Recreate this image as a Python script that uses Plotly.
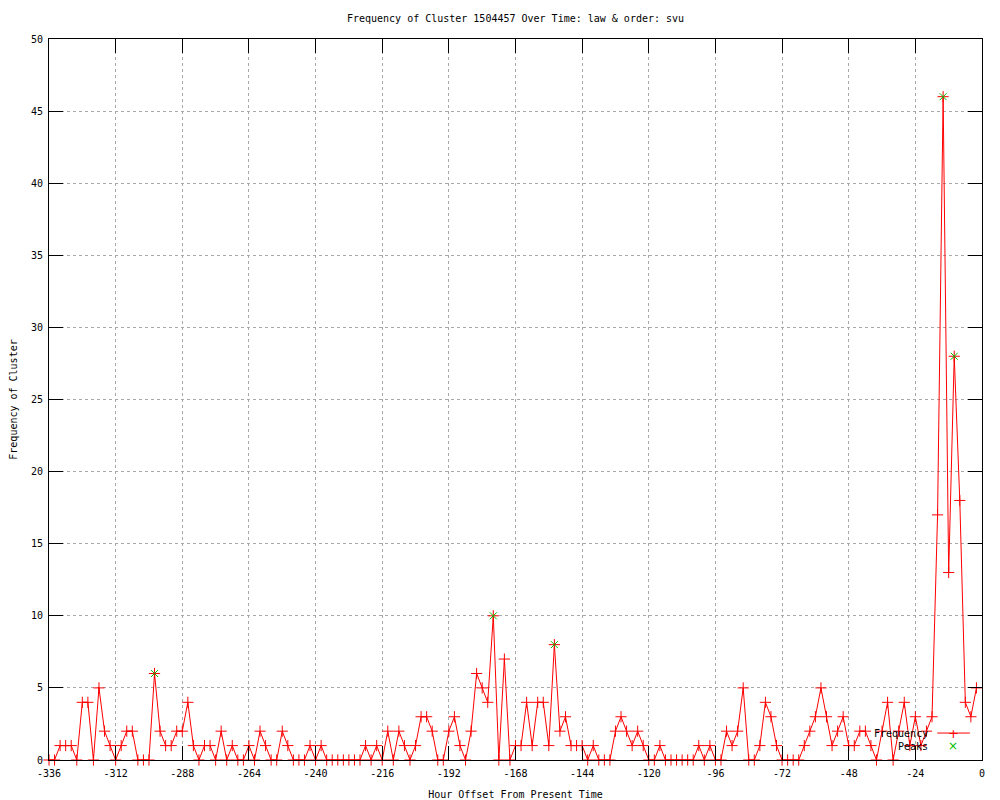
import plotly.graph_objects as go

# ---- data ----
hours = list(range(-336, 0, 2))
frequency = [
    0, 0, 1, 1, 1, 0, 4, 4, 0, 5,      # -336 .. -318
    2, 1, 0, 1, 2, 2, 0, 0, 0, 6,      # -316 .. -298
    2, 1, 1, 2, 2, 4, 1, 0, 1, 1,      # -296 .. -278
    0, 2, 0, 1, 0, 0, 1, 0, 2, 1,      # -276 .. -258
    0, 0, 2, 1, 0, 0, 0, 1, 0, 1,      # -256 .. -238
    0, 0, 0, 0, 0, 0, 0, 1, 0, 1,      # -236 .. -218
    0, 2, 0, 2, 1, 0, 1, 3, 3, 2,      # -216 .. -198
    0, 0, 2, 3, 1, 0, 2, 6, 5, 4,      # -196 .. -178
    10, 0, 7, 0, 1, 1, 4, 1, 4, 4,     # -176 .. -158
    1, 8, 2, 3, 1, 1, 1, 0, 1, 0,      # -156 .. -138
    0, 0, 2, 3, 2, 1, 2, 1, 0, 0,      # -136 .. -118
    1, 0, 0, 0, 0, 0, 0, 1, 0, 1,      # -116 .. -98
    0, 0, 2, 1, 2, 5, 0, 0, 1, 4,      # -96 .. -78
    3, 1, 0, 0, 0, 0, 1, 2, 3, 5,      # -76 .. -58
    3, 1, 2, 3, 1, 1, 2, 2, 1, 0,      # -56 .. -38
    2, 4, 0, 2, 4, 1, 3, 1, 2, 3,      # -36 .. -18
    17, 46, 13, 28, 18, 4, 3, 5        # -16 .. -2
]
peak_hours = [-298, -176, -154, -14, -10]
peak_values = [6, 10, 8, 46, 28]

x_ticks = list(range(-336, 1, 24))
x_tick_labels = [str(v) for v in x_ticks]
y_ticks = list(range(0, 51, 5))

title_text = "Frequency of Cluster 1504457 Over Time: law & order: svu"
x_title = "Hour Offset From Present Time"
y_title = "Frequency of Cluster"

RED = "#ff0000"
GREEN = "#00c000"
FONT = "DejaVu Sans Mono"

fig = go.Figure()
fig.add_trace(go.Scatter(
    x=hours, y=frequency, mode="lines+markers", name="Frequency",
    line=dict(color=RED, width=1),
    marker=dict(symbol="cross-thin", size=8, line=dict(color=RED, width=1), color=RED),
    cliponaxis=False, showlegend=False,
))
fig.add_trace(go.Scatter(
    x=peak_hours, y=peak_values, mode="markers", name="Peaks",
    marker=dict(symbol="x-thin", size=7, line=dict(color=GREEN, width=1), color=GREEN),
    cliponaxis=False, showlegend=False,
))

axis_common = dict(
    showline=True, linecolor="black", linewidth=1, mirror="allticks",
    ticks="inside", ticklen=14, tickcolor="black", tickwidth=1,
    showgrid=True, gridcolor="#a8a8a8", griddash="dot", gridwidth=1,
    zeroline=False, automargin=False,
    tickfont=dict(family=FONT, size=10, color="black"),
)

fig.update_xaxes(range=[-336, 0], tickvals=x_ticks, ticktext=x_tick_labels, ticklabelstandoff=4,
                 title=dict(text=x_title, font=dict(family=FONT, size=10, color="black"), standoff=14),
                 **axis_common)
fig.update_yaxes(range=[0, 50], tickvals=y_ticks, ticklabelstandoff=3,
                 title=dict(text=y_title, font=dict(family=FONT, size=10, color="black"), standoff=14),
                 **axis_common)

# legend drawn inside plot (gnuplot style: text left of sample)
fig.add_annotation(xref="paper", yref="paper", x=0.944, y=0.0374, xanchor="right", yanchor="middle",
                   text="Frequency", showarrow=False, font=dict(family=FONT, size=10, color="black"))
fig.add_annotation(xref="paper", yref="paper", x=0.944, y=0.0194, xanchor="right", yanchor="middle",
                   text="Peaks", showarrow=False, font=dict(family=FONT, size=10, color="black"))
fig.add_shape(type="line", xref="paper", yref="paper", x0=0.952, x1=0.987, y0=0.0374, y1=0.0374,
              line=dict(color=RED, width=1))
fig.add_annotation(xref="paper", yref="paper", x=0.969, y=0.0374, xanchor="center", yanchor="middle",
                   text="+", showarrow=False, font=dict(family="DejaVu Sans", size=13, color=RED))
fig.add_annotation(xref="paper", yref="paper", x=0.969, y=0.0194, xanchor="center", yanchor="middle",
                   text="×", showarrow=False, font=dict(family="DejaVu Sans", size=12, color=GREEN))

fig.update_layout(
    width=992, height=792,
    margin=dict(l=41, r=18, t=31, b=40),
    paper_bgcolor="white", plot_bgcolor="white",
    title=dict(text=title_text, x=0.5, xref="paper", y=1 - 10 / 792, yanchor="middle",
               font=dict(family=FONT, size=10, color="black")),
    showlegend=False,
)

fig.write_html("out.html")
